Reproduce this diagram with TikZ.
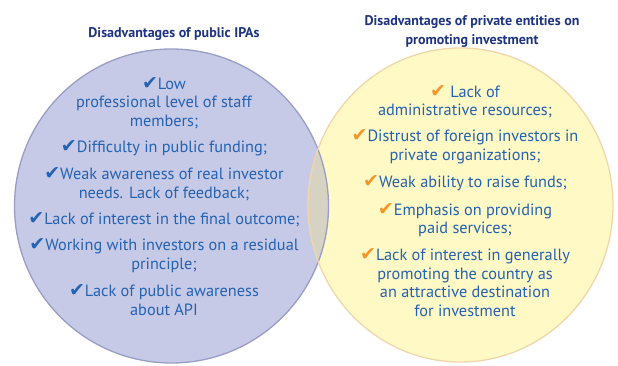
\documentclass[tikz,border=0pt]{standalone}
\usepackage{fontspec}
\setmainfont{PT Sans}
\newfontfamily\tickfont{DejaVu Sans}
\usetikzlibrary{positioning}
\definecolor{lavender}{RGB}{198,202,231}
\definecolor{lavedge}{RGB}{152,158,198}
\definecolor{cream}{RGB}{255,249,198}
\definecolor{creamedge}{RGB}{242,214,170}
\definecolor{overlap}{RGB}{214,211,194}
\definecolor{textblue}{RGB}{36,98,178}
\definecolor{titleblue}{RGB}{30,52,128}
\definecolor{tickorange}{RGB}{245,150,40}
\def\bluetick{{\tickfont\fontsize{19}{18.5}\selectfont\color{textblue}\char"2714}}
\def\orangetick{{\tickfont\fontsize{19}{18.5}\selectfont\color{tickorange}\char"2714}}

\begin{document}
\begin{tikzpicture}[x=1pt,y=1pt,% y counted from the bottom of the 618x366 frame
				item/.style={
					align=center,		% so that "\\" breaks the line
					text=textblue,
					inner sep=0pt,
					font=\fontsize{16.3}{18.5}\selectfont
				},
				heading/.style={
					align=center,
					text=titleblue,
					inner sep=0pt,
					font=\fontsize{14}{19}\selectfont\bfseries
				},
				node distance=11.5pt
			]
			\useasboundingbox (0,0) rectangle (618,366);
			\coordinate (CL) at (171.5,160);
			\coordinate (CR) at (460.5,161);
			% the two sets and their overlap
			\fill[lavender] (CL) circle (157);
			\fill[cream] (CR) ellipse (152.5 and 157);
			\begin{scope}
				\clip (CL) circle (157);
				\fill[overlap] (CR) ellipse (152.5 and 157);
			\end{scope}
			\draw[lavedge,line width=1.3pt] (CL) circle (157);
			\draw[creamedge,line width=1.3pt] (CR) ellipse (152.5 and 157);
			% headings
			\node[heading,anchor=base](T1) at (174,328){Disadvantages of public IPAs};
			\node[heading,anchor=base](T2) at (472,321){Disadvantages of private entities on \\ promoting investment};
			% public IPAs
			\node[item,anchor=north](L1) at (164,289){\bluetick Low \\ professional level of staff \\ members;};
			\node[item](L2)[below= of L1]{\bluetick Difficulty in public funding;};
			\node[item](L3)[below= of L2]{\bluetick Weak awareness of real investor \\ needs. Lack of feedback;};
			\node[item](L4)[below= of L3]{\bluetick Lack of interest in the final outcome;};
			\node[item](L5)[below= of L4]{\bluetick Working with investors on a residual \\ principle;};
			\node[item](L6)[below= of L5]{\bluetick Lack of public awareness \\ about API};
			% private entities
			\node[item,anchor=north](R1) at (465,281){\orangetick\ Lack of \\ administrative resources;};
			\node[item](R2)[below= of R1]{\orangetick Distrust of foreign investors in \\ private organizations;};
			\node[item](R3)[below= of R2]{\orangetick Weak ability to raise funds;};
			\node[item](R4)[below= of R3]{\orangetick Emphasis on providing \\ paid services;};
			\node[item](R5)[below= of R4]{\orangetick Lack of interest in generally \\ promoting the country as \\ an attractive destination \\ for investment};
		\end{tikzpicture}
\end{document}
